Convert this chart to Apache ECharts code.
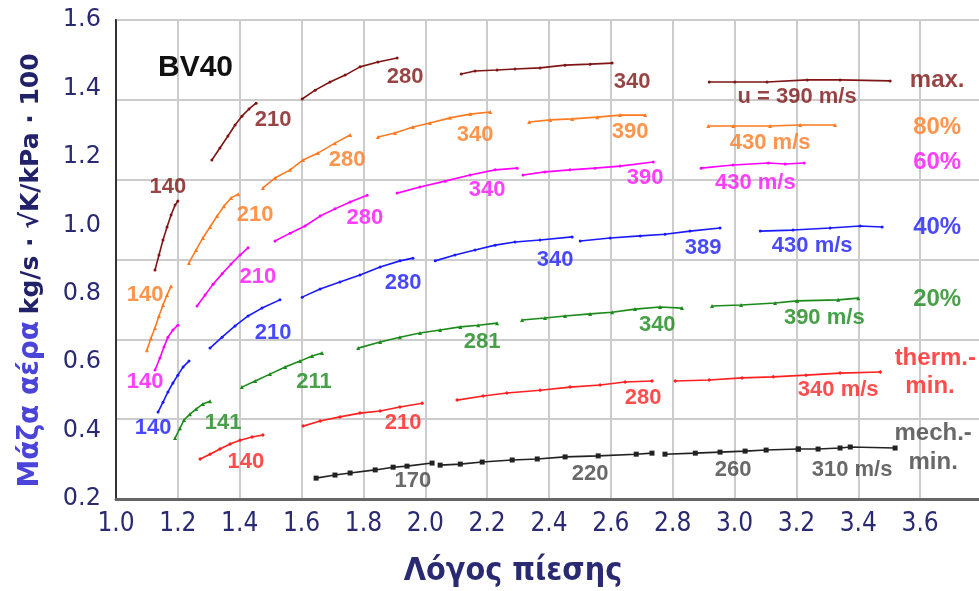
<!DOCTYPE html>
<html>
<head>
<meta charset="utf-8">
<script src="https://cdn.jsdelivr.net/npm/echarts@6/dist/echarts.min.js"></script>
<style>
html,body{margin:0;padding:0;background:#fff;}
#c{width:979px;height:591px;}
</style>
</head>
<body>
<div id="c"></div>
<script>
// ---------- data (x = pressure ratio, y = corrected air mass flow) ----------
const xTicks = [1.0,1.2,1.4,1.6,1.8,2.0,2.2,2.4,2.6,2.8,3.0,3.2,3.4,3.6];
const yTicks = [0.2,0.4,0.6,0.8,1.0,1.2,1.4,1.6];

// max.
const maxSegs = [
  [[1.126,0.869],[1.139,0.913],[1.152,0.957],[1.165,0.995],[1.178,1.030],[1.191,1.059],[1.200,1.071]],
  [[1.310,1.191],[1.336,1.226],[1.362,1.261],[1.385,1.293],[1.407,1.319],[1.430,1.340],[1.453,1.357]],
  [[1.602,1.369],[1.644,1.395],[1.692,1.419],[1.741,1.439],[1.789,1.463],[1.847,1.477],[1.909,1.489]],
  [[2.116,1.442],[2.161,1.451],[2.232,1.454],[2.290,1.457],[2.371,1.460],[2.452,1.468],[2.533,1.471],[2.604,1.474]],
  [[2.918,1.419],[3.001,1.419],[3.105,1.419],[3.235,1.425],[3.341,1.425],[3.503,1.422]]
];
const maxLabels = [['140',1.168,1.112],['210',1.508,1.308],['280',1.935,1.433],['340',2.669,1.419],['u = 390 m/s',3.202,1.375]];

// 80 %
const p80Segs = [
  [[1.100,0.635],[1.113,0.670],[1.126,0.700],[1.139,0.735],[1.152,0.767],[1.165,0.796],[1.178,0.822]],
  [[1.236,0.890],[1.259,0.928],[1.281,0.963],[1.304,0.995],[1.327,1.027],[1.349,1.056],[1.372,1.080],[1.395,1.091]],
  [[1.475,1.109],[1.514,1.138],[1.563,1.162],[1.605,1.191],[1.653,1.211],[1.708,1.240],[1.757,1.264]],
  [[1.847,1.258],[1.902,1.270],[1.960,1.287],[2.015,1.299],[2.080,1.314],[2.145,1.325],[2.210,1.331]],
  [[2.336,1.302],[2.404,1.308],[2.475,1.311],[2.556,1.316],[2.630,1.322],[2.711,1.322]],
  [[2.915,1.290],[2.996,1.290],[3.115,1.290],[3.212,1.293],[3.325,1.293]]
];
const p80Labels = [['140',1.094,0.796],['210',1.450,1.030],['280',1.747,1.191],['340',2.161,1.264],['390',2.662,1.273],['430 m/s',3.115,1.240]];

// 60 %
const p60Segs = [
  [[1.126,0.577],[1.142,0.612],[1.155,0.644],[1.168,0.673],[1.184,0.694],[1.200,0.708]],
  [[1.262,0.764],[1.288,0.796],[1.314,0.828],[1.343,0.858],[1.372,0.887],[1.401,0.913],[1.427,0.934]],
  [[1.514,0.954],[1.563,0.977],[1.611,0.998],[1.660,1.027],[1.708,1.048],[1.757,1.068],[1.812,1.088]],
  [[1.909,1.094],[1.983,1.112],[2.064,1.129],[2.145,1.147],[2.226,1.162],[2.297,1.167]],
  [[2.316,1.147],[2.387,1.156],[2.468,1.162],[2.549,1.167],[2.630,1.173],[2.737,1.185]],
  [[2.892,1.167],[2.995,1.176],[3.109,1.182],[3.164,1.179],[3.225,1.182]]
];
const p60Labels = [['140',1.094,0.542],['210',1.459,0.849],['280',1.805,1.021],['340',2.200,1.103],['390',2.711,1.138],['430 m/s',3.067,1.124]];

// 40 %
const p40Segs = [
  [[1.136,0.454],[1.152,0.483],[1.168,0.513],[1.184,0.539],[1.200,0.562],[1.217,0.586],[1.236,0.603]],
  [[1.304,0.641],[1.343,0.673],[1.385,0.706],[1.427,0.735],[1.472,0.758],[1.530,0.782]],
  [[1.602,0.790],[1.660,0.814],[1.724,0.834],[1.789,0.855],[1.854,0.878],[1.918,0.896],[1.960,0.904]],
  [[2.032,0.896],[2.096,0.913],[2.161,0.928],[2.226,0.942],[2.290,0.951],[2.371,0.957],[2.475,0.966]],
  [[2.501,0.954],[2.598,0.963],[2.695,0.969],[2.775,0.974],[2.856,0.983],[2.953,0.992]],
  [[3.083,0.983],[3.189,0.986],[3.309,0.992],[3.406,0.998],[3.477,0.995]]
];
const p40Labels = [['140',1.120,0.407],['210',1.508,0.685],['280',1.928,0.831],['340',2.420,0.898],['389',2.898,0.934],['430 m/s',3.251,0.939]];

// 20 %
const p20Segs = [
  [[1.191,0.378],[1.207,0.407],[1.220,0.431],[1.239,0.448],[1.259,0.463],[1.281,0.478],[1.304,0.486]],
  [[1.407,0.527],[1.450,0.545],[1.498,0.565],[1.547,0.586],[1.595,0.603],[1.634,0.618],[1.666,0.627]],
  [[1.783,0.641],[1.854,0.659],[1.918,0.673],[1.983,0.685],[2.048,0.694],[2.113,0.703],[2.171,0.708],[2.232,0.714]],
  [[2.313,0.723],[2.387,0.729],[2.452,0.735],[2.533,0.741],[2.604,0.746],[2.678,0.755],[2.759,0.761],[2.830,0.758]],
  [[2.927,0.764],[3.021,0.767],[3.131,0.773],[3.202,0.779],[3.335,0.782],[3.400,0.787]]
];
const p20Labels = [['141',1.346,0.422],['211',1.640,0.542],['281',2.184,0.659],['340',2.750,0.708],['390 m/s',3.290,0.729]];

// thermal minimum
const thermSegs = [
  [[1.272,0.317],[1.304,0.331],[1.336,0.346],[1.369,0.361],[1.401,0.372],[1.440,0.381],[1.475,0.387]],
  [[1.605,0.413],[1.660,0.428],[1.724,0.440],[1.789,0.451],[1.854,0.457],[1.918,0.469],[1.990,0.480]],
  [[2.103,0.489],[2.187,0.501],[2.264,0.510],[2.371,0.518],[2.468,0.527],[2.565,0.533],[2.646,0.542],[2.733,0.545]],
  [[2.808,0.545],[2.918,0.548],[3.024,0.554],[3.125,0.557],[3.231,0.562],[3.341,0.568],[3.471,0.571]]
];
const thermLabels = [['140',1.420,0.308],['210',1.928,0.422],['280',2.704,0.495],['340 m/s',3.335,0.518]];

// mechanical minimum
const mechSegs = [
  [[1.647,0.261],[1.708,0.270],[1.757,0.276],[1.838,0.285],[1.896,0.293],[1.941,0.296],[2.022,0.305]],
  [[2.048,0.299],[2.113,0.302],[2.184,0.308],[2.281,0.314],[2.362,0.317],[2.452,0.323],[2.559,0.326],[2.682,0.331],[2.733,0.334]],
  [[2.775,0.331],[2.873,0.334],[2.953,0.337],[3.034,0.340],[3.102,0.343],[3.206,0.346]],
  [[3.206,0.346],[3.270,0.346],[3.341,0.349],[3.374,0.352],[3.519,0.349]]
];
const mechLabels = [['170',1.960,0.253],['220',2.533,0.273],['260',2.995,0.285],['310 m/s',3.380,0.285]];

// right-hand group names
const groupNames = [['max.',3.655,1.425],['80%',3.655,1.287],['60%',3.655,1.185],['40%',3.655,0.995],['20%',3.655,0.782],['therm.-',3.649,0.612],['min.',3.632,0.530],['mech.-',3.642,0.393],['min.',3.642,0.308]];
const groupNameColors = ['#801515','#ff7a20','#ff10ff','#1a1aff','#1a8a1a','#ff2020','#ff2020','#444444','#444444'];

// ---------- build ----------
const groups = [
  {segs:maxSegs, labels:maxLabels, color:'#801515', lab:'#801515', sym:'circle', ss:3},
  {segs:p80Segs, labels:p80Labels, color:'#ff7a20', lab:'#ff7a20', sym:'triangle', ss:4},
  {segs:p60Segs, labels:p60Labels, color:'#ff00ff', lab:'#ff10ff', sym:'circle', ss:3},
  {segs:p40Segs, labels:p40Labels, color:'#1a1aff', lab:'#1a1aff', sym:'circle', ss:3},
  {segs:p20Segs, labels:p20Labels, color:'#1a8a1a', lab:'#1a8a1a', sym:'triangle', ss:4},
  {segs:thermSegs, labels:thermLabels, color:'#ff2020', lab:'#ff2020', sym:'diamond', ss:4},
  {segs:mechSegs, labels:mechLabels, color:'#222222', lab:'#444444', sym:'rect', ss:5}
];

const series = [];
groups.forEach(g => {
  g.segs.forEach(seg => {
    series.push({
      type:'line', data:seg, yAxisIndex:0, symbol:g.sym, symbolSize:g.ss, showSymbol:true,
      lineStyle:{color:g.color, width:1.6}, itemStyle:{color:g.color}, silent:true, z:3
    });
  });
  series.push({
    type:'scatter', yAxisIndex:0, symbolSize:0, silent:true, z:5,
    data:g.labels.map(l => ({name:l[0], value:[l[1], l[2]]})),
    label:{show:true, position:'inside', formatter:p=>p.name, color:g.lab,
      fontFamily:'Liberation Sans, Arial, sans-serif', fontWeight:'bold', fontSize:22}
  });
});
series.push({
  type:'scatter', yAxisIndex:0, symbolSize:0, silent:true, z:5,
  data:groupNames.map((l,i) => ({name:l[0], value:[l[1], l[2]],
    label:{color:groupNameColors[i]}})),
  label:{show:true, position:'inside', formatter:p=>p.name,
    fontFamily:'Liberation Sans, Arial, sans-serif', fontWeight:'bold', fontSize:24}
});

const axisBlue = '#2a2a72';
const isTick = (v, arr) => arr.some(t => Math.abs(t - v) < 1e-6);

const option = {
  animation:false,
  backgroundColor:'#fff',
  grid:{left:116, top:20, right:-3, bottom:92, outerBoundsMode:'none', containLabel:false,
    show:true, borderColor:'#444', borderWidth:2, backgroundColor:'transparent'},
  xAxis:{
    type:'value', min:1.0, max:3.8, interval:0.2,
    axisLine:{show:true, onZero:false, lineStyle:{color:'#666', width:3}},
    axisTick:{show:false},
    splitLine:{show:true, lineStyle:{color:'#cccccc', width:2}},
    axisLabel:{margin:12, color:axisBlue, fontSize:26,
      fontFamily:'Liberation Sans Narrow, DejaVu Sans Condensed, sans-serif',
      formatter:v => isTick(v, xTicks) ? v.toFixed(1) : ''}
  },
  yAxis:[
    {type:'value', min:0.2, max:1.6, interval:0.2, position:'left',
      axisLine:{show:true, onZero:false, lineStyle:{color:'#333', width:2}},
      axisTick:{show:false}, splitLine:{show:false},
      axisLabel:{margin:15, color:axisBlue, fontSize:24, fontFamily:'DejaVu Sans, sans-serif',
        formatter:v => isTick(v, yTicks) ? v.toFixed(1) : ''},
      name:'{a|Μάζα αέρα}  {b|kg/s · √K/kPa · 100}', nameLocation:'middle', nameGap:71, nameRotate:90,
      nameTextStyle:{padding:[0,22,0,0], rich:{
        a:{fontFamily:'DejaVu Sans, sans-serif', fontWeight:'bold', fontSize:28, color:'#4a44d8'},
        b:{fontFamily:'DejaVu Sans, sans-serif', fontWeight:'bold', fontSize:25, color:'#22226a'}
      }}
    },
    {type:'value', min:0, max:6, interval:1, position:'right',
      axisLine:{show:false}, axisTick:{show:false}, axisLabel:{show:false},
      splitLine:{show:true, lineStyle:{color:'#cccccc', width:2}}}
  ],
  graphic:[
    {type:'text', x:158, y:68, silent:true, z:10,
      style:{text:'BV40', fill:'#111', font:'bold 30px "Liberation Sans", Arial, sans-serif', textAlign:'left', textVerticalAlign:'middle'}},
    {type:'text', x:513, y:572, silent:true, z:10,
      style:{text:'Λόγος πίεσης', fill:axisBlue, font:'bold 32px "Liberation Sans Narrow", "DejaVu Sans Condensed", sans-serif', textAlign:'center', textVerticalAlign:'middle'}}
  ],
  series:series
};

const chart = echarts.init(document.getElementById('c'), null, {renderer:'canvas'});
chart.setOption(option);
</script>
</body>
</html>
